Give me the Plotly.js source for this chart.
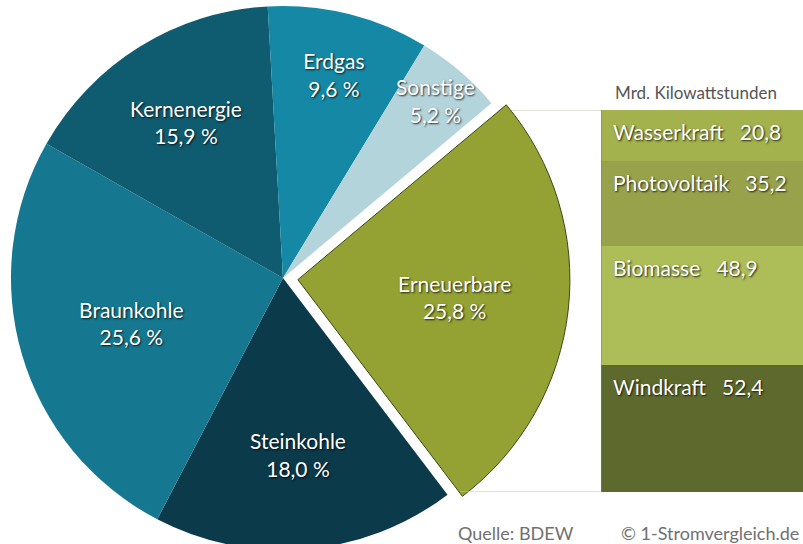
<!DOCTYPE html>
<html><head><meta charset="utf-8">
<script src="https://cdn.plot.ly/plotly-3.0.1.min.js"></script>
<style>
html,body{margin:0;padding:0;background:#fff;overflow:hidden}
#wrap{width:803px;height:544px;overflow:hidden;position:relative}
#chart{position:absolute;left:-4px;top:-9px;width:807px;height:574px}
</style>
</head><body><div id="wrap"><div id="chart"></div></div>
<script>
// Pie: Stromerzeugung nach Energieträgern (Anteile in %)
const pieLabels = ["Erneuerbare", "Steinkohle", "Braunkohle", "Kernenergie", "Erdgas", "Sonstige"];
const pieValues = [25.8, 18.0, 25.6, 15.9, 9.6, 5.2];
const pieColors = ["#93a233", "#0b3a4b", "#157890", "#0f5b6f", "#1588a5", "#b4d4dc"];
const piePull = [0.055, 0, 0, 0, 0, 0];

// Bar: Erneuerbare aufgeteilt (Mrd. Kilowattstunden), bottom to top
const barLabels = ["Windkraft", "Biomasse", "Photovoltaik", "Wasserkraft"];
const barValues = [52.4, 48.9, 35.2, 20.8];
const barColors = ["#5e6a2d", "#adbd57", "#97a24a", "#a3b24c"];
const barUnit = "Mrd. Kilowattstunden";
const sourceText = "Quelle: BDEW";
const copyrightText = "© 1-Stromvergleich.de";

const fmt = v => v.toFixed(1).replace(".", ",");
const shadow = "1px 1px 2px rgba(0,0,0,0.8)";
const FONT = "Lato, 'Open Sans', sans-serif";

const traces = [];
traces.push({
  type: "pie",
  labels: pieLabels,
  values: pieValues,
  text: pieLabels.map((l, i) => l + "<br>" + fmt(pieValues[i]) + " %"),
  textinfo: "text",
  textposition: "inside",
  insidetextorientation: "horizontal",
  textfont: {family: FONT, size: 21, color: "#ffffff", shadow: shadow},
  marker: {colors: pieColors, line: {color: ["#3d4a18", "rgba(0,0,0,0)", "rgba(0,0,0,0)", "rgba(0,0,0,0)", "rgba(0,0,0,0)", "rgba(0,0,0,0)"], width: [1, 0, 0, 0, 0, 0]}},
  pull: piePull,
  sort: false,
  direction: "clockwise",
  rotation: 50,
  hoverinfo: "none",
  showlegend: false,
  domain: {x: [0, 574 / 807], y: [0, 1]}
});

let cum = 0;
const annotations = [];
barLabels.forEach((lab, i) => {
  traces.push({
    type: "bar",
    x: [0],
    y: [barValues[i]],
    width: 1,
    marker: {color: barColors[i], line: {width: 0}},
    hoverinfo: "none",
    showlegend: false,
    xaxis: "x",
    yaxis: "y"
  });
  cum += barValues[i];
  annotations.push({
    x: -0.5, y: cum, xref: "x", yref: "y",
    xanchor: "left", yanchor: "top", xshift: 10, yshift: -7,
    text: lab + "&nbsp;&nbsp;&nbsp;" + fmt(barValues[i]),
    showarrow: false,
    font: {family: FONT, size: 21, color: "#ffffff", shadow: shadow}
  });
});
const total = barValues.reduce((a, b) => a + b, 0);

annotations.push({
  x: -0.5, y: total, xref: "x", yref: "y", xanchor: "left", yanchor: "bottom",
  xshift: 12, yshift: 5, showarrow: false, text: barUnit,
  font: {family: FONT, size: 17, color: "#555555"}
});
annotations.push({
  x: 520 / 807, y: (574 - 542) / 574, xref: "paper", yref: "paper", xanchor: "center", yanchor: "middle",
  showarrow: false, text: sourceText,
  font: {family: FONT, size: 18, color: "#707070"}
});
annotations.push({
  x: 1, y: (574 - 542) / 574, xref: "paper", yref: "paper", xanchor: "right", yanchor: "middle",
  xshift: -2, showarrow: false, text: copyrightText,
  font: {family: FONT, size: 18, color: "#707070"}
});

const layout = {
  width: 807, height: 574,
  margin: {l: 0, r: 0, t: 0, b: 0, pad: 0},
  paper_bgcolor: "#ffffff", plot_bgcolor: "rgba(0,0,0,0)",
  barmode: "stack",
  bargap: 0,
  uniformtext: {minsize: 21, mode: "show"},
  xaxis: {domain: [605 / 807, 1], range: [-0.5, 0.5], visible: false, fixedrange: true},
  yaxis: {domain: [(574 - 501) / 574, (574 - 119) / 574], range: [0, total], visible: false, fixedrange: true},
  annotations: annotations,
  shapes: [
    {type: "line", xref: "paper", yref: "y", x0: 504 / 807, x1: 1, y0: total, y1: total, line: {color: "#c3c8b0", width: 1}, layer: "below"},
    {type: "line", xref: "paper", yref: "y", x0: 464 / 807, x1: 605 / 807, y0: 0, y1: 0, line: {color: "#c3c8b0", width: 1}},
    {type: "line", xref: "x", yref: "y", x0: -0.5, x1: -0.5, y0: 0, y1: total, line: {color: "#7d8560", width: 1}}
  ],
  font: {family: FONT}
};

Plotly.newPlot("chart", traces, layout, {displayModeBar: false, staticPlot: true});
</script>
</body></html>
